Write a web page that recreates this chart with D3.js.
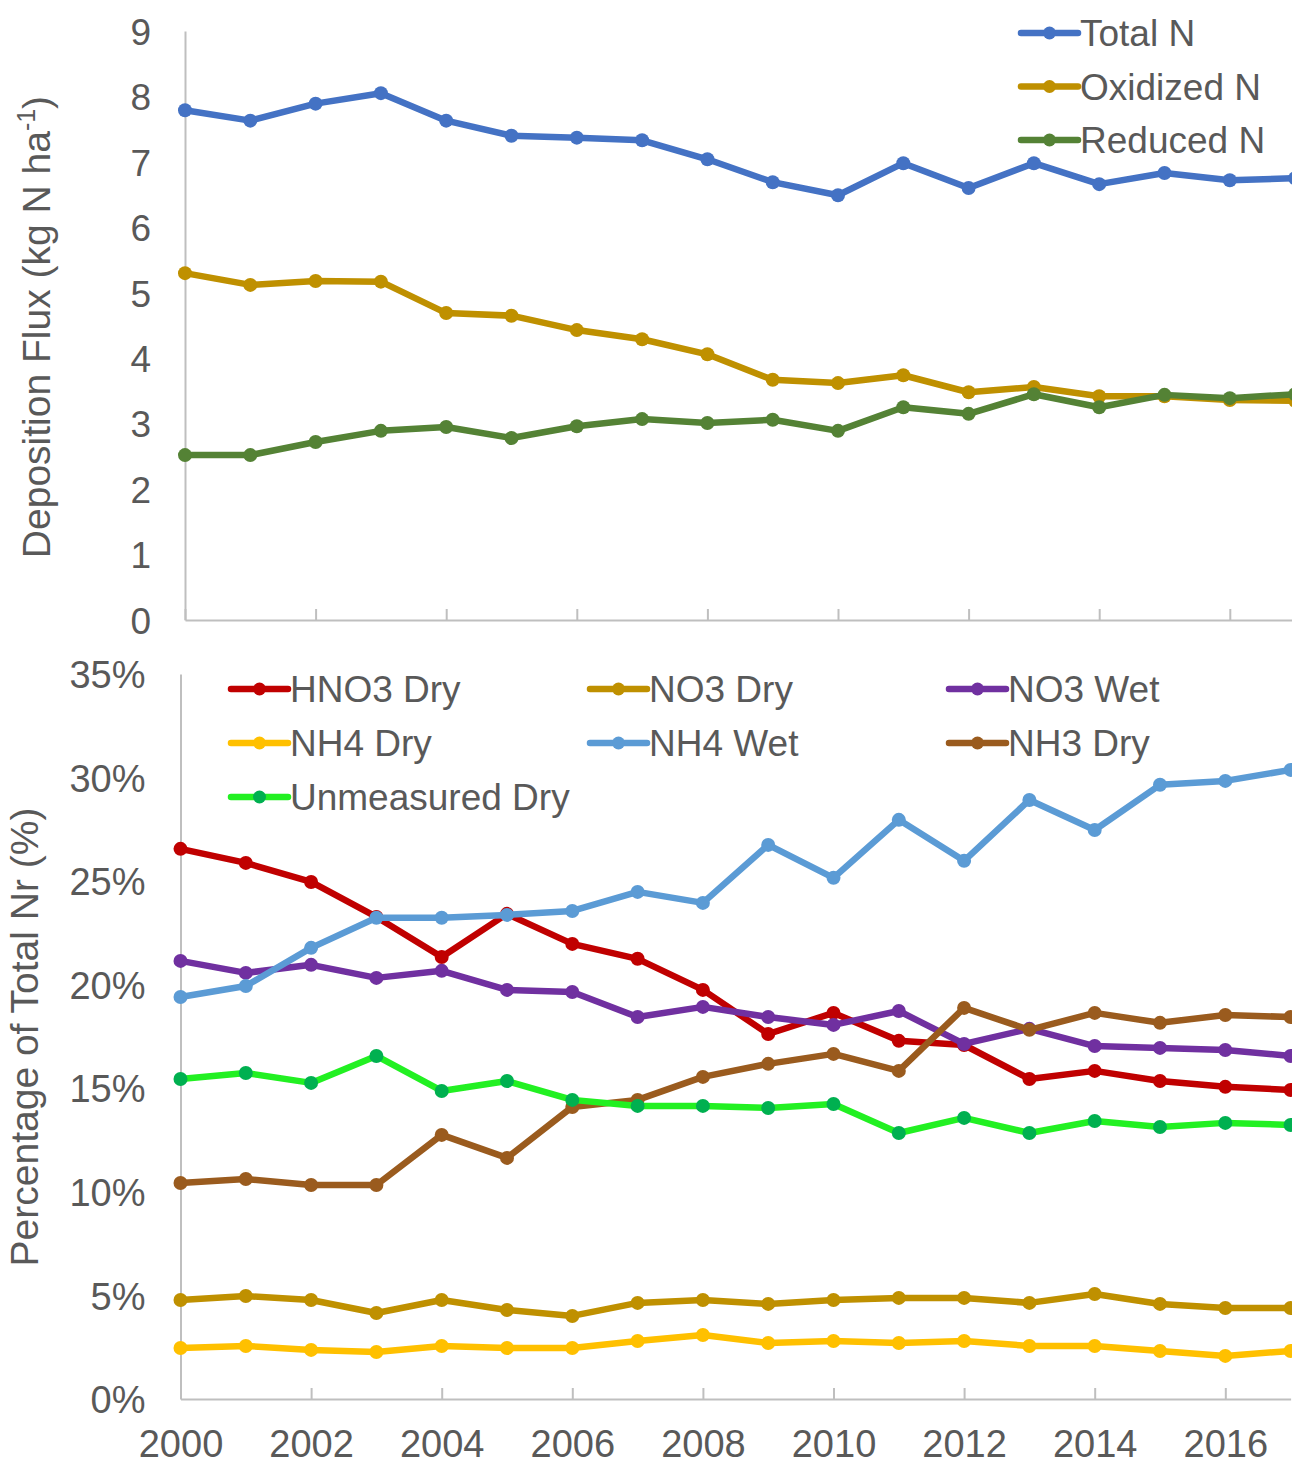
<!doctype html>
<html lang="en">
<head>
<meta charset="utf-8" />
  <title>Nitrogen deposition</title>
  <script src="https://d3js.org/d3.v7.min.js"></script>
  <style type="text/css">
    html, body { margin: 0; padding: 0; background: #fff; }
    svg text { font-family: "Liberation Sans", Arial, sans-serif; fill: #595959; }
  </style>
</head>
<body>
  <div id="graphe"></div>
  <script>
// years shared by both panels
var annees = d3.range(2000, 2018);
var anneesTicks = [2000, 2002, 2004, 2006, 2008, 2010, 2012, 2014, 2016];

// top panel : kg N / ha
var totalN    = [7.79, 7.63, 7.89, 8.05, 7.63, 7.40, 7.37, 7.33, 7.04, 6.69, 6.49, 6.98, 6.60, 6.98, 6.66, 6.83, 6.72, 6.75];
var oxydeN    = [5.30, 5.12, 5.18, 5.17, 4.69, 4.65, 4.43, 4.29, 4.06, 3.67, 3.62, 3.74, 3.48, 3.56, 3.42, 3.42, 3.36, 3.35];
var reduitN   = [2.52, 2.52, 2.72, 2.89, 2.95, 2.78, 2.96, 3.07, 3.01, 3.06, 2.89, 3.25, 3.15, 3.45, 3.25, 3.44, 3.39, 3.45];
var ticksHaut = [0, 1, 2, 3, 4, 5, 6, 7, 8, 9];

// bottom panel : % of total Nr
var hno3Sec   = [26.56, 25.88, 24.96, 23.27, 21.34, 23.42, 21.97, 21.25, 19.75, 17.62, 18.64, 17.29, 17.09, 15.45, 15.84, 15.35, 15.07, 14.92];
var no3Sec    = [4.78, 4.97, 4.78, 4.15, 4.78, 4.30, 4.01, 4.64, 4.78, 4.59, 4.78, 4.88, 4.88, 4.64, 5.07, 4.59, 4.39, 4.39];
var no3Humide = [21.15, 20.57, 20.96, 20.33, 20.67, 19.75, 19.65, 18.44, 18.93, 18.44, 18.06, 18.73, 17.14, 17.87, 17.04, 16.95, 16.85, 16.56];
var nh4Sec    = [2.46, 2.56, 2.37, 2.27, 2.56, 2.46, 2.46, 2.80, 3.09, 2.70, 2.80, 2.70, 2.80, 2.56, 2.56, 2.32, 2.08, 2.32];
var nh4Humide = [19.41, 19.94, 21.78, 23.23, 23.23, 23.37, 23.56, 24.48, 23.95, 26.75, 25.16, 27.96, 25.98, 28.92, 27.47, 29.65, 29.84, 30.37];
var nh3Sec    = [10.43, 10.62, 10.33, 10.33, 12.75, 11.64, 14.10, 14.44, 15.55, 16.18, 16.66, 15.84, 18.88, 17.82, 18.64, 18.16, 18.54, 18.44];
var nonMesure = [15.45, 15.74, 15.26, 16.56, 14.87, 15.35, 14.44, 14.15, 14.15, 14.05, 14.24, 12.84, 13.57, 12.84, 13.42, 13.13, 13.33, 13.23];
var ticksBas  = [0, 5, 10, 15, 20, 25, 30, 35];

var seriesHaut = [
  {nom: "Total N",    val: totalN,  coul: "#4472C4", pt: "#4472C4"},
  {nom: "Oxidized N", val: oxydeN,  coul: "#BF9000", pt: "#BF9000"},
  {nom: "Reduced N",  val: reduitN, coul: "#548235", pt: "#548235"}
];
var seriesBas = [
  {nom: "HNO3 Dry",        val: hno3Sec,   coul: "#C00000", pt: "#C00000"},
  {nom: "NO3 Dry",         val: no3Sec,    coul: "#BF9000", pt: "#BF9000"},
  {nom: "NO3 Wet",         val: no3Humide, coul: "#7030A0", pt: "#7030A0"},
  {nom: "NH4 Dry",         val: nh4Sec,    coul: "#FFC000", pt: "#FFC000"},
  {nom: "NH4 Wet",         val: nh4Humide, coul: "#5B9BD5", pt: "#5B9BD5"},
  {nom: "NH3 Dry",         val: nh3Sec,    coul: "#9A5B1E", pt: "#9A5B1E"},
  {nom: "Unmeasured Dry",  val: nonMesure, coul: "#22F022", pt: "#00B050"}
];

var svg = d3.select("#graphe").append("svg").attr("width", 1292).attr("height", 1464);

function tracePanneau(p) {
  var x = d3.scaleLinear().domain([2000, 2017]).range([p.gauche, p.gauche + 17 * 65.3]);
  var y = d3.scaleLinear().domain(p.domaine).range([p.bas, p.haut]);
  var g = svg.append("g");

  // axes (light grey), ticks pointing up on x
  var axeX = d3.axisBottom(x).tickValues(anneesTicks).tickSizeInner(-11).tickSizeOuter(0).tickFormat(p.labelsX ? d3.format("d") : "");
  var gx = g.append("g").attr("transform", "translate(0," + p.bas + ")").call(axeX);
  gx.select(".domain").attr("stroke", "#BFBFBF").attr("stroke-width", 2);
  gx.selectAll(".tick line").attr("stroke", "#BFBFBF").attr("stroke-width", 2);
  gx.selectAll(".tick text").attr("font-size", 38).attr("dy", 0).attr("y", 58).style("font-family", null);

  var axeY = d3.axisLeft(y).tickValues(p.ticks).tickSize(0).tickPadding(p.padY).tickFormat(p.format);
  var gy = g.append("g").attr("transform", "translate(" + p.gauche + ",0)").call(axeY);
  gy.select(".domain").attr("stroke", "#BFBFBF").attr("stroke-width", 2);
  gy.selectAll(".tick text").attr("font-size", p.tailleY).attr("dy", "0.36em").style("font-family", null);

  var ligne = d3.line().x(function(d, i) { return x(annees[i]); }).y(function(d) { return y(d); });
  p.series.forEach(function(s) {
    g.append("path").attr("d", ligne(s.val)).attr("fill", "none")
      .attr("stroke", s.coul).attr("stroke-width", 6.5).attr("stroke-linejoin", "round");
    g.selectAll(null).data(s.val).enter().append("circle")
      .attr("cx", function(d, i) { return x(annees[i]); })
      .attr("cy", function(d) { return y(d); })
      .attr("r", 7).attr("fill", s.pt);
  });

  // legend
  p.series.forEach(function(s, i) {
    var lx = p.legX + (i % p.legCols) * p.legDx;
    var ly = p.legY + Math.floor(i / p.legCols) * p.legDy;
    g.append("line").attr("x1", lx).attr("x2", lx + 57).attr("y1", ly).attr("y2", ly)
      .attr("stroke", s.coul).attr("stroke-width", 6.5).attr("stroke-linecap", "round");
    g.append("circle").attr("cx", lx + 28.5).attr("cy", ly).attr("r", 6.5).attr("fill", s.pt);
    g.append("text").attr("x", lx + 59).attr("y", ly).attr("dy", "0.36em")
      .attr("font-size", 37).text(s.nom);
  });
}

tracePanneau({
  gauche: 185, bas: 620, haut: 31, domaine: [0, 9], ticks: ticksHaut,
  format: d3.format("d"), padY: 34, tailleY: 37, labelsX: false,
  series: seriesHaut, legX: 1021, legY: 33, legCols: 1, legDx: 0, legDy: 53.5
});
tracePanneau({
  gauche: 180.5, bas: 1399, haut: 674, domaine: [0, 35], ticks: ticksBas,
  format: function(d) { return d + "%"; }, padY: 35, tailleY: 38, labelsX: true,
  series: seriesBas, legX: 231, legY: 689, legCols: 3, legDx: 359, legDy: 54
});

// axis titles
var t1 = svg.append("text").attr("transform", "translate(50,327) rotate(-90)")
  .attr("text-anchor", "middle").attr("font-size", 39);
t1.append("tspan").text("Deposition Flux (kg N ha");
t1.append("tspan").attr("font-size", 25).attr("dy", -15).text("-1");
t1.append("tspan").attr("dy", 15).text(")");

svg.append("text").attr("transform", "translate(38,1037) rotate(-90)")
  .attr("text-anchor", "middle").attr("font-size", 39).text("Percentage of Total Nr (%)");
  </script>
</body>
</html>
